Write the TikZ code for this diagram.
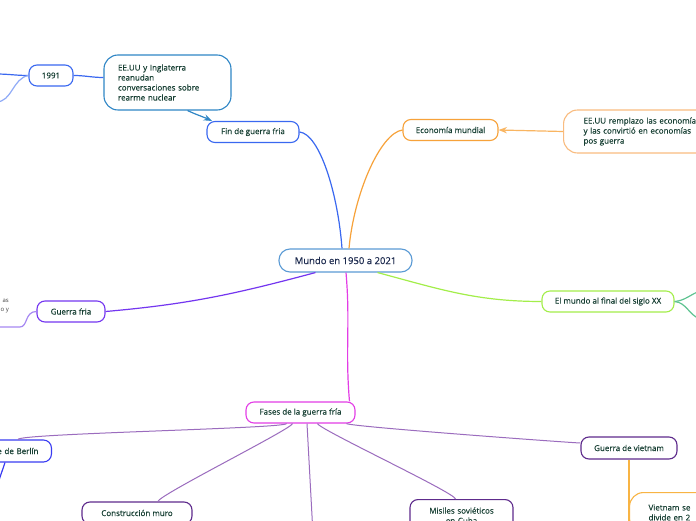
\documentclass[tikz,border=0pt]{standalone}
\usepackage{fontspec}
\setmainfont{Open Sans}[BoldFont={Open Sans}, BoldFeatures={FakeBold=0.35}]
\usetikzlibrary{positioning, arrows.meta}

\definecolor{txt}{HTML}{173F33}
\definecolor{roottxt}{HTML}{1C2A4E}
\definecolor{rootline}{HTML}{5B9BD5}
\definecolor{finblue}{HTML}{3A68F0}
\definecolor{paleblue}{HTML}{8FAAF7}
\definecolor{steel}{HTML}{2F86C6}
\definecolor{orangeA}{HTML}{F7A23A}
\definecolor{orangeB}{HTML}{F9BC80}
\definecolor{lime}{HTML}{A3EE4A}
\definecolor{seagreen}{HTML}{5EC391}
\definecolor{violet}{HTML}{7436F0}
\definecolor{lilac}{HTML}{A688F2}
\definecolor{fasemag}{HTML}{E33DE6}
\definecolor{phase}{HTML}{9B6CBE}
\definecolor{berlinblue}{HTML}{3A3CF2}
\definecolor{plum}{HTML}{5E2B8C}
\definecolor{amber}{HTML}{F8B444}

\begin{document}
\begin{tikzpicture}[x=1pt, y=1pt, >=Stealth,
    topic/.style={draw, fill=white, rounded corners=8pt, line width=1.1pt,
      text=txt, font=\fontsize{8}{10}\selectfont\bfseries, inner sep=0pt,
      minimum height=21pt},
    note/.style={topic, rounded corners=14pt, align=left},
    link/.style={line width=1.2pt},
    branch/.style={line width=1pt, phase}]
  \fill[white] (0,0) rectangle (696,520);
  \useasboundingbox (0,0) rectangle (696,520);

  % main topic and first level
  \node[topic, draw=rootline, text=roottxt, minimum width=133pt, minimum height=23pt,
    rounded corners=11pt, font=\fontsize{9.5}{11}\selectfont\bfseries] (root) at (345.5,259.5) {Mundo en 1950 a 2021};
  \node[topic, draw=finblue, minimum width=92pt] (fin) at (253,388) {Fin de guerra fria};
  \node[topic, draw=orangeA, minimum width=95pt] (econ) at (450.5,390) {Economía mundial};
  \node[topic, draw=lime, minimum width=132pt] (mundo) at (608,218.5) {El mundo al final del siglo XX};
  \node[topic, draw=violet, minimum width=68pt] (gfria) at (71,208.5) {Guerra fria};
  \node[topic, draw=fasemag, minimum width=109pt] (fases) at (300.5,107.5) {Fases de la guerra fría};

  % details
  \node[topic, draw=finblue, minimum width=44pt] (y1991) at (51,444.5) {1991};
  \node[note, draw=steel, minimum width=127pt, minimum height=55pt, inner xsep=14pt,
    text width=99pt] (rearme) at (167.5,437.5)
    {EE.UU y Inglaterra\\reanudan\\conversaciones sobre\\rearme nuclear};
  \node[note, draw=orangeB, anchor=west, minimum height=43pt, inner xsep=20pt,
    text width=140pt] (remplazo) at (563,388.5)
    {EE.UU remplazo las economías\\y las convirtió en economías\\pos guerra};
  \node[text=black!75, font=\fontsize{6}{9}\selectfont, align=right, anchor=east,
    inner sep=0pt] (resto) at (9,213.5) {as\\o y};

  % phases
  \node[topic, draw=berlinblue, anchor=east, align=right, text width=70pt,
    inner xsep=13pt, minimum height=22pt] (berlin) at (52,69) {e de Berlín};
  \node[topic, draw=plum, minimum width=110pt, minimum height=22pt] (muro) at (137,7) {Construcción muro};
  \node[topic, draw=plum, anchor=north, minimum width=103pt, minimum height=32pt,
    text width=90pt, align=center, inner ysep=6pt] (misiles) at (461.5,21)
    {Misiles soviéticos\\en Cuba};
  \node[topic, draw=plum, minimum width=96pt, minimum height=22pt] (vietnam) at (629,72) {Guerra de vietnam};
  \node[note, draw=amber, anchor=north west, inner xsep=19pt, inner ysep=6pt,
    text width=60pt, minimum height=40pt] (divide) at (629,28) {Vietnam se\\divide en 2};

  % free ends
  \coordinate (off1) at (-4,446);
  \coordinate (off2) at (-4,418);
  \coordinate (offgf) at (-4,193);
  \coordinate (offm1) at (700,229);
  \coordinate (offm2) at (700,201);
  \coordinate (offber) at (-4,31);
  \coordinate (offfase) at (312.5,-5);
  \coordinate (offviet) at (629,-5);

  % connectors from the root
  \draw[link, finblue] ([xshift=-3.5pt]root.north) .. controls +(-4,55) and +(20,-2) .. (fin.east);
  \draw[link, orangeA] ([xshift=3.5pt]root.north) .. controls +(5,55) and +(-22,-3) .. (econ.west);
  \draw[link, violet] ([xshift=-30pt]root.south) to[out=195, in=5] (gfria.east);
  \draw[link, lime] ([xshift=32pt]root.south) to[out=-15, in=180] (mundo.west);
  \draw[link, fasemag] ([xshift=0.5pt]root.south) to[out=-85, in=95] ([xshift=49pt]fases.north);

  % upper left
  \draw[link, finblue] (y1991.east) to[out=0, in=180] ([yshift=5pt]rearme.west);
  \draw[link, finblue] (y1991.west) to[out=180, in=0] (off1);
  \draw[link, paleblue] (y1991.west) to[out=190, in=0] (off2);
  \draw[link, steel, ->] ([xshift=20pt]rearme.south) to[out=-25, in=155] ([xshift=-41pt]fin.north);

  % right side
  \draw[link, orangeA!80, ->] (remplazo.west) -- (econ.east);
  \draw[link, seagreen] (mundo.east) to[out=5, in=200] (offm1);
  \draw[link, seagreen] (mundo.east) to[out=-5, in=160] (offm2);

  % left side
  \draw[link, lilac] (gfria.west) .. controls +(-12,0) and +(8,0) .. (20,193) -- (offgf);

  % phases of the cold war
  \draw[branch] ([xshift=-14pt]fases.south) .. controls +(0,-5) and +(0,6) .. ([xshift=-34pt]berlin.north east);
  \draw[branch] ([xshift=-8pt]fases.south) .. controls +(0,-5) and +(0,6) .. ([xshift=21pt]muro.north);
  \draw[branch] ([xshift=6.5pt]fases.south) -- (offfase);
  \draw[branch] ([xshift=17pt]fases.south) .. controls +(0,-5) and +(0,6) .. ([xshift=-6pt]misiles.north);
  \draw[branch] ([xshift=46pt]fases.south) .. controls +(2,-3) and +(-6,0) .. ([yshift=5pt]vietnam.west);
  \draw[link, berlinblue] ([xshift=-47pt]berlin.south east) -- (offber);
  \draw[link, amber] (vietnam.south) -- (offviet);
\end{tikzpicture}
\end{document}
